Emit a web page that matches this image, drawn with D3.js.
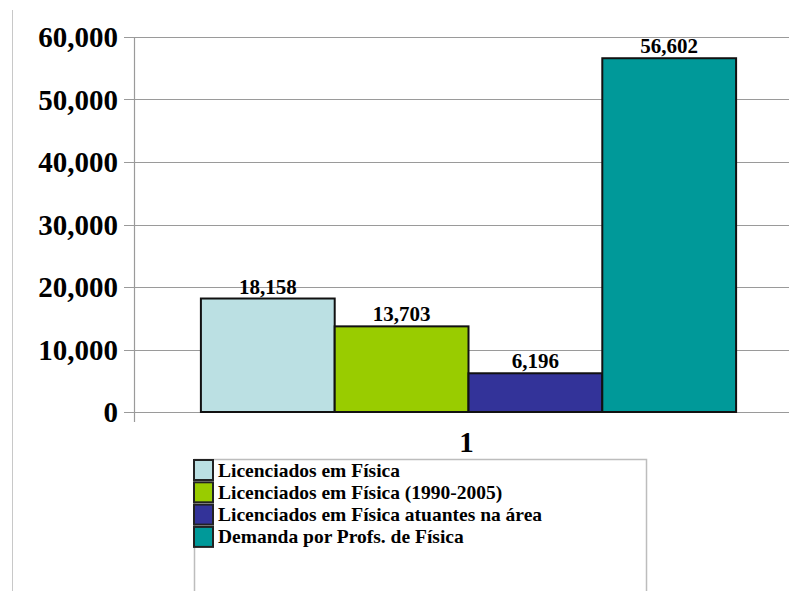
<!DOCTYPE html>
<html>
<head>
<meta charset="utf-8">
<script src="https://cdn.jsdelivr.net/npm/d3@7"></script>
<style>
  body { margin: 0; background: #fff; }
  svg text { font-family: "Liberation Serif", "Times New Roman", serif; font-weight: bold; fill: #000; }
</style>
</head>
<body>
<div id="chart"></div>
<script>
// data
var categories = ["1"];
var seriesNames = [
  "Licenciados em Física",
  "Licenciados em Física (1990-2005)",
  "Licenciados em Física atuantes na área",
  "Demanda por Profs. de Física"
];
var seriesValues = [18158, 13703, 6196, 56602];
var seriesColors = ["#bbe0e3", "#99cc00", "#333399", "#009999"];
var yTicks = [0, 10000, 20000, 30000, 40000, 50000, 60000];

var svgWidth = 789;
var svgHeight = 591;

var margin = { top: 37, left: 134, right: -14, bottom: 179 };
var width = svgWidth - margin.left - margin.right;
var height = svgHeight - margin.top - margin.bottom;

var svg = d3.select("#chart")
  .append("svg")
  .attr("width", svgWidth)
  .attr("height", svgHeight);

// thin frame line on the left
svg.append("line")
  .attr("x1", 12.5).attr("x2", 12.5)
  .attr("y1", 10).attr("y2", svgHeight)
  .attr("stroke", "#c8c8c8")
  .attr("stroke-width", 1);

var chartGroup = svg.append("g")
  .attr("transform", `translate(${margin.left}, ${margin.top})`);

var yScale = d3.scaleLinear()
  .domain([0, 60000])
  .range([height, 0]);

var xScale = d3.scaleBand()
  .domain(categories)
  .range([0, width])
  .paddingInner(0)
  .paddingOuter(0.125);

var xInner = d3.scaleBand()
  .domain(seriesNames)
  .range([0, xScale.bandwidth()])
  .padding(0);

// gridlines
chartGroup.append("g")
  .selectAll("line")
  .data(yTicks)
  .enter()
  .append("line")
  .attr("x1", -10)
  .attr("x2", svgWidth)
  .attr("y1", d => Math.round(yScale(d)) + 0.5)
  .attr("y2", d => Math.round(yScale(d)) + 0.5)
  .attr("stroke", "#9a9a9a")
  .attr("stroke-width", 1.2);

// y axis line
chartGroup.append("line")
  .attr("x1", 0.5).attr("x2", 0.5)
  .attr("y1", 0).attr("y2", height + 10)
  .attr("stroke", "#9a9a9a")
  .attr("stroke-width", 1.2);

// y tick labels
var leftAxis = d3.axisLeft(yScale)
  .tickValues(yTicks)
  .tickFormat(d3.format(","))
  .tickSize(0)
  .tickPadding(16);

var yAxis = chartGroup.append("g").call(leftAxis);
yAxis.select(".domain").remove();
yAxis.selectAll("text")
  .attr("font-size", "29px")
  .style("font-family", "'Liberation Serif', serif")
  .style("font-weight", "bold")
  .attr("dy", "0.34em");

// bars
var barGroups = chartGroup.append("g")
  .selectAll("g")
  .data(categories)
  .enter()
  .append("g")
  .attr("transform", d => `translate(${xScale(d)}, 0)`);

barGroups.selectAll("rect")
  .data(seriesNames.map((s, i) => ({ name: s, value: seriesValues[i], color: seriesColors[i] })))
  .enter()
  .append("rect")
  .attr("x", d => xInner(d.name))
  .attr("y", d => yScale(d.value))
  .attr("width", xInner.bandwidth())
  .attr("height", d => height - yScale(d.value))
  .attr("fill", d => d.color)
  .attr("stroke", "#111")
  .attr("stroke-width", 2);

// value labels
barGroups.selectAll("text.value")
  .data(seriesNames.map((s, i) => ({ name: s, value: seriesValues[i] })))
  .enter()
  .append("text")
  .attr("class", "value")
  .attr("x", d => xInner(d.name) + xInner.bandwidth() / 2)
  .attr("y", d => yScale(d.value) - 5)
  .attr("text-anchor", "middle")
  .attr("font-size", "21px")
  .text(d => d3.format(",")(d.value));

// category label
chartGroup.append("g")
  .selectAll("text")
  .data(categories)
  .enter()
  .append("text")
  .attr("x", d => xScale(d) + xScale.bandwidth() / 2 - 2)
  .attr("y", height + 40)
  .attr("text-anchor", "middle")
  .attr("font-size", "29px")
  .text(d => d);

// legend box
var legend = svg.append("g")
  .attr("transform", "translate(194, 459)");

legend.append("rect")
  .attr("x", 0.5).attr("y", 0.5)
  .attr("width", 452)
  .attr("height", 160)
  .attr("fill", "#fff")
  .attr("stroke", "#bdbdbd")
  .attr("stroke-width", 1.5);

var items = legend.selectAll("g.item")
  .data(seriesNames)
  .enter()
  .append("g")
  .attr("class", "item")
  .attr("transform", (d, i) => `translate(0, ${1 + i * 22.3})`);

items.append("rect")
  .attr("x", 0).attr("y", 0)
  .attr("width", 19).attr("height", 20)
  .attr("fill", (d, i) => seriesColors[i])
  .attr("stroke", "#222")
  .attr("stroke-width", 2);

items.append("text")
  .attr("x", 24)
  .attr("y", 16.5)
  .attr("font-size", "19.5px")
  .text(d => d);
</script>
</body>
</html>
